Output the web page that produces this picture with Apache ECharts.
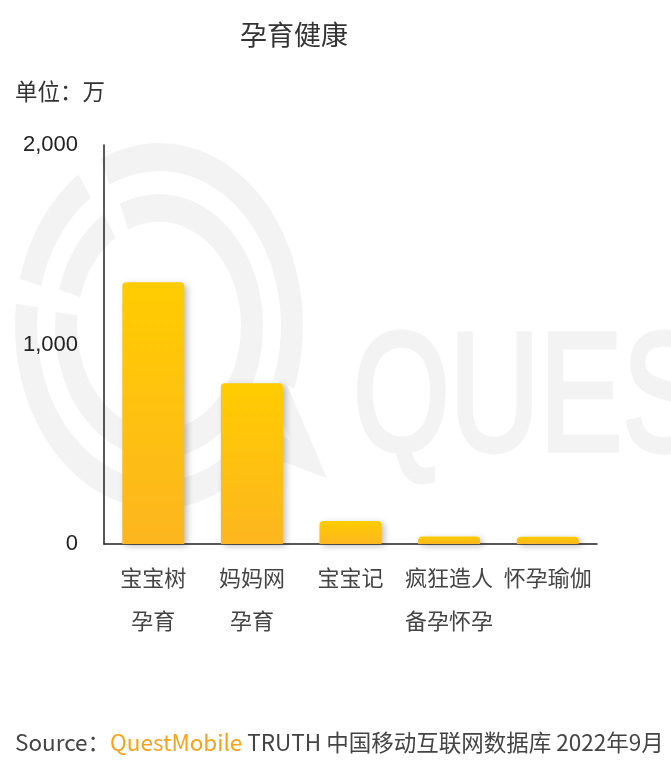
<!DOCTYPE html>
<html>
<head>
<meta charset="utf-8">
<script src="https://cdn.jsdelivr.net/npm/echarts@6/dist/echarts.min.js"></script>
<style>
html,body{margin:0;padding:0;background:#fff;}
#c{width:671px;height:763px;}
</style>
</head>
<body>
<div id="c"></div>
<script>
var categories = ['宝宝树\n孕育', '妈妈网\n孕育', '宝宝记', '疯狂造人\n备孕怀孕', '怀孕瑜伽'];
var values = [1312, 806, 115, 37, 36];
var yTicks = [0, 1000, 2000];

var chart = echarts.init(document.getElementById('c'), null, {renderer: 'canvas'});
var wm = '#f3f3f3';
var cjk = '"Noto Sans CJK SC", "Noto Sans", sans-serif';
function deg(d) { return d * Math.PI / 180; }
function arc(r, a0, a1) {
  return {type: 'arc', silent: true,
    shape: {cx: 0, cy: 0, r: r, startAngle: deg(a0), endAngle: deg(a1), clockwise: true},
    style: {fill: null, stroke: wm, lineWidth: 22}};
}
var sy = 1.27;
function p(x, y) { return [x - 159, (y - 326) / sy]; }

chart.setOption({
  backgroundColor: '#fff',
  animation: false,
  title: {
    text: '孕育健康',
    left: 235, top: 16,
    textStyle: {fontFamily: cjk, fontSize: 27, fontWeight: 'normal', color: '#333'}
  },
  graphic: [
    {type: 'group', x: 159, y: 326, scaleY: sy, z: -10, silent: true, children: [
      arc(133, 246, 360 + 20),
      arc(133, 45, 187),
      arc(133, 195, 236),
      arc(93, 248, 360 + 186),
      arc(93, 196, 238),
      {type: 'polygon', silent: true,
        shape: {points: [p(284, 378), p(327, 478), p(238, 445), p(252, 420), p(290, 440), p(268, 390)]},
        style: {fill: wm}},
      {type: 'circle', silent: true, shape: {cx: 0, cy: -16, r: 15}, style: {fill: wm}}
    ]},
    {type: 'group', x: 353, y: 320, scaleX: 0.74, z: -10, silent: true, children: [
      {type: 'text', silent: true, x: 0, y: 0,
        style: {text: 'QUES', fontFamily: 'Liberation Sans', fontSize: 168, fill: wm, stroke: wm, lineWidth: 5}}
    ]},
    {type: 'text', left: 15, top: 80,
      style: {text: '单位：万', fontFamily: cjk, fontSize: 22.5, fill: '#333'}},
    {type: 'text', left: 15, top: 731,
      style: {
        text: '{a|Source：}{b|QuestMobile}{a| TRUTH 中国移动互联网数据库 2022年9月}',
        rich: {
          a: {fontFamily: cjk, fontSize: 22.5, fill: '#444', color: '#444'},
          b: {fontFamily: cjk, fontSize: 22.5, fill: '#F7A21B', color: '#F7A21B'}
        }
      }}
  ],
  grid: {left: 104, right: 74, top: 145, bottom: 219, containLabel: false},
  xAxis: {
    type: 'category',
    data: categories,
    axisLine: {show: true, lineStyle: {color: '#222', width: 1.5}},
    axisTick: {show: false},
    axisLabel: {interval: 0, fontFamily: cjk, fontSize: 22, color: '#444', lineHeight: 43, margin: 12}
  },
  yAxis: {
    type: 'value',
    min: 0, max: 2000, interval: 1000,
    axisLine: {show: true, lineStyle: {color: '#222', width: 1.5}},
    axisTick: {show: false},
    splitLine: {show: false},
    axisLabel: {
      fontFamily: 'Liberation Sans, Arial, sans-serif', fontSize: 22, color: '#222', margin: 26,
      formatter: function (v) { return yTicks.indexOf(v) >= 0 ? v.toLocaleString('en-US') : ''; }
    }
  },
  series: [{
    type: 'bar',
    data: values,
    barWidth: 62,
    itemStyle: {
      borderRadius: [4, 4, 0, 0],
      color: {type: 'linear', x: 0, y: 0, x2: 0, y2: 1, colorStops: [
        {offset: 0, color: '#FFCC00'},
        {offset: 1, color: '#FDB61F'}
      ]},
      shadowColor: 'rgba(0,0,0,0.25)',
      shadowBlur: 6,
      shadowOffsetX: 3,
      shadowOffsetY: 2
    }
  }]
});
</script>
</body>
</html>
